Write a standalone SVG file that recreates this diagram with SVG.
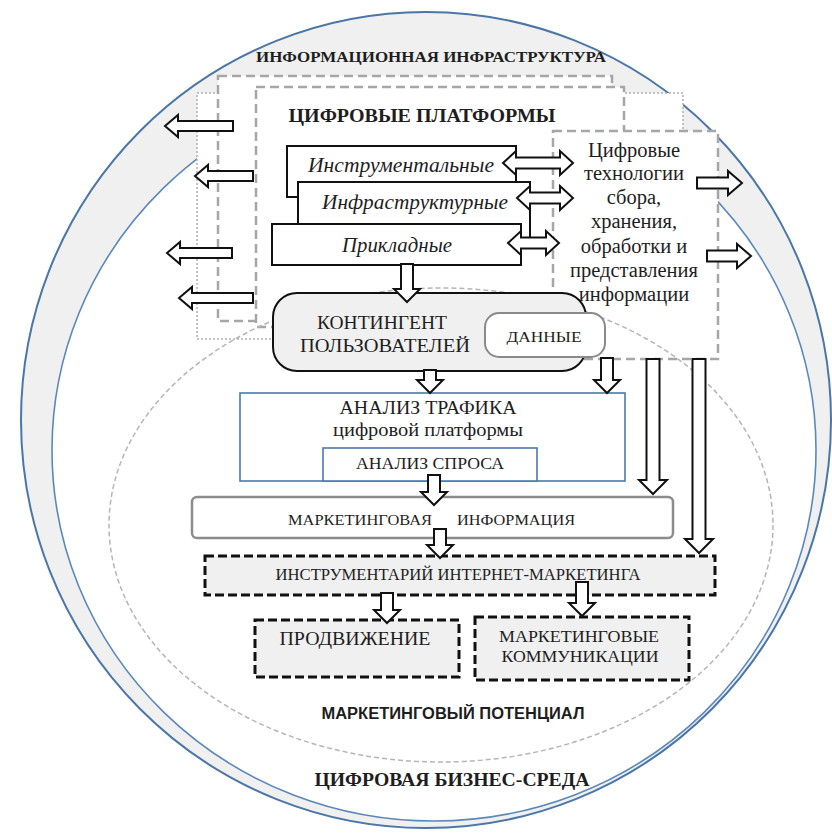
<svg xmlns="http://www.w3.org/2000/svg" width="832" height="833" viewBox="0 0 832 833">
<style>
.serif{font-family:"Liberation Serif","Times New Roman",serif;fill:#1e1e1e}
.sans{font-family:"Liberation Sans",Arial,sans-serif;fill:#1e1e1e}
.b{font-weight:bold}
.it{font-style:italic}
.gdash{fill:#fff;stroke:#a6a6a6;stroke-width:2.5;stroke-dasharray:9 5}
.solid{fill:#fff;stroke:#111;stroke-width:2}
.kdash{fill:#f0f0f0;stroke:#111;stroke-width:3;stroke-dasharray:9 4}
.blue{fill:#fff;stroke:#4a78ac;stroke-width:1.6}
.arr{fill:#fff;stroke:#111;stroke-width:2;stroke-linejoin:miter}
</style>
<g id="background">
<ellipse cx="426" cy="420" rx="405" ry="408" fill="#f0f0f0" stroke="#4a76a8" stroke-width="2"/>
<ellipse cx="434" cy="450" rx="382" ry="371" fill="#fff" stroke="#5b88bb" stroke-width="1.6"/>
<text class="serif b" x="431" y="62" font-size="15" text-anchor="middle" textLength="350" lengthAdjust="spacingAndGlyphs">ИНФОРМАЦИОННАЯ ИНФРАСТРУКТУРА</text>
</g>
<g id="platform-frames">
<rect x="197" y="93" width="486" height="246" fill="#fff" stroke="#b0b0b0" stroke-width="1.5" stroke-dasharray="2 2"/>
<rect class="gdash" x="218" y="76" width="394" height="245"/>
<rect class="gdash" x="256" y="87" width="368" height="240"/>
</g>
<g id="tech-box">
<rect class="gdash" x="553" y="131" width="165" height="228"/>
<g class="serif" font-size="20.5" text-anchor="middle">
<text x="634" y="157">Цифровые</text>
<text x="634" y="180">технологии</text>
<text x="634" y="204">сбора,</text>
<text x="634" y="228">хранения,</text>
<text x="634" y="253">обработки и</text>
<text x="634" y="277">представления</text>
<text x="634" y="301">информации</text>
</g>
</g>
<g id="marketing-potential">
<ellipse cx="441" cy="525" rx="332" ry="237" fill="none" stroke="#b5b5b5" stroke-width="1.5" stroke-dasharray="5 3"/>
<text class="sans b" x="453" y="719" font-size="16" text-anchor="middle" textLength="263" lengthAdjust="spacingAndGlyphs">МАРКЕТИНГОВЫЙ ПОТЕНЦИАЛ</text>
</g>
<g id="business-env">
<text class="serif b" x="452" y="786" font-size="18" text-anchor="middle" textLength="275" lengthAdjust="spacingAndGlyphs">ЦИФРОВАЯ БИЗНЕС-СРЕДА</text>
</g>
<g id="platforms-title">
<text class="serif b" x="422" y="122" font-size="18" text-anchor="middle" textLength="267" lengthAdjust="spacingAndGlyphs">ЦИФРОВЫЕ ПЛАТФОРМЫ</text>
</g>
<g id="instrumental">
<rect class="solid" x="287" y="146" width="229" height="51"/>
<text class="serif it" x="401" y="172" font-size="20" text-anchor="middle" textLength="186" lengthAdjust="spacingAndGlyphs">Инструментальные</text>
</g>
<g id="infrastructural">
<rect class="solid" x="298" y="182" width="232" height="56"/>
<text class="serif it" x="415" y="209" font-size="20" text-anchor="middle" textLength="186" lengthAdjust="spacingAndGlyphs">Инфраструктурные</text>
</g>
<g id="applied">
<rect class="solid" x="272" y="224" width="249" height="41"/>
<text class="serif it" x="397" y="252" font-size="20" text-anchor="middle" textLength="110" lengthAdjust="spacingAndGlyphs">Прикладные</text>
</g>
<g id="contingent">
<rect x="273" y="293" width="313" height="78" rx="24" fill="#f0f0f0" stroke="#111" stroke-width="2"/>
<text class="serif" x="382" y="329" font-size="19" text-anchor="middle" textLength="130" lengthAdjust="spacingAndGlyphs">КОНТИНГЕНТ</text>
<text class="serif" x="385" y="352" font-size="19" text-anchor="middle" textLength="170" lengthAdjust="spacingAndGlyphs">ПОЛЬЗОВАТЕЛЕЙ</text>
</g>
<g id="data">
<rect x="485" y="313" width="120" height="44" rx="14" fill="#fff" stroke="#8a8a8a" stroke-width="2"/>
<text class="serif" x="544" y="342" font-size="15" text-anchor="middle" textLength="75" lengthAdjust="spacingAndGlyphs">ДАННЫЕ</text>
</g>
<g id="traffic-analysis">
<rect class="blue" x="240" y="393" width="385" height="88"/>
<text class="serif" x="428" y="414" font-size="19" text-anchor="middle" textLength="177" lengthAdjust="spacingAndGlyphs">АНАЛИЗ ТРАФИКА</text>
<text class="serif" x="428" y="436" font-size="18" text-anchor="middle" textLength="190" lengthAdjust="spacingAndGlyphs">цифровой платформы</text>
</g>
<g id="demand-analysis">
<rect class="blue" x="323" y="448" width="214" height="33"/>
<text class="serif" x="430" y="469" font-size="16" text-anchor="middle" textLength="148" lengthAdjust="spacingAndGlyphs">АНАЛИЗ СПРОСА</text>
</g>
<g id="marketing-info">
<rect x="192" y="497" width="481" height="41" rx="5" fill="#fff" stroke="#8c8c8c" stroke-width="2.5"/>
<text class="serif" x="360" y="525" font-size="15" text-anchor="middle" textLength="144" lengthAdjust="spacingAndGlyphs">МАРКЕТИНГОВАЯ</text>
<text class="serif" x="516" y="525" font-size="15" text-anchor="middle" textLength="118" lengthAdjust="spacingAndGlyphs">ИНФОРМАЦИЯ</text>
</g>
<g id="toolkit">
<rect class="kdash" x="205" y="556" width="510" height="39"/>
<text class="serif" x="458" y="580" font-size="16" text-anchor="middle" textLength="365" lengthAdjust="spacingAndGlyphs">ИНСТРУМЕНТАРИЙ ИНТЕРНЕТ-МАРКЕТИНГА</text>
</g>
<g id="promotion">
<rect class="kdash" x="255" y="620" width="204" height="57"/>
<text class="serif" x="355" y="645" font-size="18" text-anchor="middle" textLength="151" lengthAdjust="spacingAndGlyphs">ПРОДВИЖЕНИЕ</text>
</g>
<g id="communications">
<rect class="kdash" x="475" y="617" width="214" height="63"/>
<text class="serif" x="579" y="642" font-size="17" text-anchor="middle" textLength="160" lengthAdjust="spacingAndGlyphs">МАРКЕТИНГОВЫЕ</text>
<text class="serif" x="580" y="662" font-size="17" text-anchor="middle" textLength="157" lengthAdjust="spacingAndGlyphs">КОММУНИКАЦИИ</text>
</g>
<g id="connectors">
<path class="arr" d="M165,126 L178,115 L178,121 L233,121 L233,131 L178,131 L178,137 Z"/>
<path class="arr" d="M195,176 L208,165 L208,171 L253,171 L253,181 L208,181 L208,187 Z"/>
<path class="arr" d="M167,253 L180,242 L180,248 L232,248 L232,258 L180,258 L180,264 Z"/>
<path class="arr" d="M179,298 L192,287 L192,293 L253,293 L253,303 L192,303 L192,309 Z"/>
<path class="arr" d="M697,177.5 L728,177.5 L728,171 L742,183 L728,195 L728,188.5 L697,188.5 Z"/>
<path class="arr" d="M707,250.5 L737,250.5 L737,244 L751,256 L737,268 L737,261.5 L707,261.5 Z"/>
<path class="arr" d="M503,163 L516,151 L516,157.5 L560,157.5 L560,151 L573,163 L560,175 L560,168.5 L516,168.5 L516,175 Z"/>
<path class="arr" d="M517,198 L530,186 L530,192.5 L560,192.5 L560,186 L573,198 L560,210 L560,203.5 L530,203.5 L530,210 Z"/>
<path class="arr" d="M508,243 L521,231 L521,237.5 L546,237.5 L546,231 L559,243 L546,255 L546,248.5 L521,248.5 L521,255 Z"/>
<path class="arr" d="M401,264 L413,264 L413,289 L420,289 L407,302 L394,289 L401,289 Z"/>
<path class="arr" d="M424,370 L436,370 L436,380 L443,380 L430,393 L417,380 L424,380 Z"/>
<path class="arr" d="M601,358 L613,358 L613,380 L620,380 L607,393 L594,380 L601,380 Z"/>
<path class="arr" d="M428,475 L440,475 L440,492 L447,492 L434,505 L421,492 L428,492 Z"/>
<path class="arr" d="M434,529 L446,529 L446,545 L453,545 L440,558 L427,545 L434,545 Z"/>
<path class="arr" d="M381,593 L393,593 L393,610 L400,610 L387,623 L374,610 L381,610 Z"/>
<path class="arr" d="M576,582 L588,582 L588,603 L595,603 L582,616 L569,603 L576,603 Z"/>
<path class="arr" d="M646.5,359 L659.5,359 L659.5,480 L667,480 L653,494 L639,480 L646.5,480 Z"/>
<path class="arr" d="M692.5,359 L705.5,359 L705.5,539 L713,539 L699,553 L685,539 L692.5,539 Z"/>
</g>
</svg>
